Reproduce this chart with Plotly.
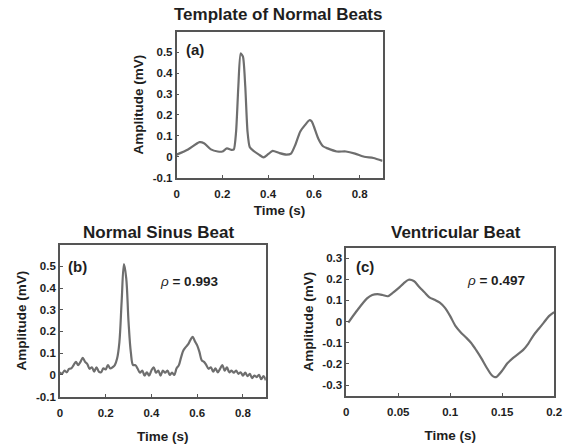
import plotly.graph_objects as go

# ---------------- data ----------------
t_a = [0, 0.05, 0.1, 0.12, 0.15, 0.18, 0.2, 0.22, 0.24, 0.25, 0.26, 0.27, 0.28, 0.29, 0.30,
       0.31, 0.32, 0.34, 0.36, 0.38, 0.40, 0.42, 0.45, 0.48, 0.50, 0.52, 0.54, 0.56, 0.58,
       0.59, 0.60, 0.62, 0.64, 0.66, 0.70, 0.74, 0.78, 0.82, 0.86, 0.9]
v_a = [0.01, 0.035, 0.07, 0.065, 0.035, 0.025, 0.025, 0.04, 0.033, 0.035, 0.12, 0.34, 0.495,
       0.48, 0.34, 0.12, 0.045, 0.025, 0.01, -0.003, 0.012, 0.028, 0.017, 0.01, 0.015, 0.06,
       0.12, 0.15, 0.175, 0.17, 0.145, 0.085, 0.05, 0.04, 0.025, 0.025, 0.015, 0.0, -0.006, -0.02]

t_b = [round(i * 0.01, 2) for i in range(91)]
v_b = [0.012, 0.005, 0.02, 0.012, 0.028, 0.03, 0.045, 0.06, 0.045, 0.06,
       0.078, 0.06, 0.05, 0.028, 0.035, 0.015, 0.035, 0.015, 0.012, 0.03,
       0.025, 0.045, 0.03, 0.035, 0.045, 0.075, 0.15, 0.34, 0.51, 0.445,
       0.245, 0.105, 0.045, 0.045, 0.028, 0.01, 0.02, -0.003, 0.012, -0.003,
       0.02, 0.035, 0.01, 0.02, -0.003, 0.02, 0.01, 0.02, 0.0, 0.01,
       0.0, 0.03, 0.045, 0.082, 0.113, 0.128, 0.14, 0.16, 0.175, 0.155,
       0.136, 0.105, 0.067, 0.06, 0.045, 0.028, 0.035, 0.015, 0.03, 0.012,
       0.028, 0.045, 0.02, 0.035, 0.012, 0.02, 0.01, 0.02, 0.005, 0.012,
       -0.003, 0.01, -0.006, 0.005, -0.015, -0.003, -0.01, 0.0, -0.02, -0.006,
       -0.025]

t_c = [0.002, 0.01, 0.02, 0.025, 0.03, 0.035, 0.04, 0.045, 0.05, 0.055, 0.06, 0.065, 0.07,
       0.075, 0.08, 0.085, 0.09, 0.095, 0.10, 0.105, 0.11, 0.115, 0.12, 0.125, 0.13, 0.135,
       0.14, 0.143, 0.145, 0.15, 0.155, 0.16, 0.165, 0.17, 0.175, 0.18, 0.185, 0.19, 0.195, 0.2]
v_c = [-0.005, 0.05, 0.11, 0.126, 0.13, 0.126, 0.12, 0.137, 0.157, 0.18, 0.198, 0.192, 0.165,
       0.14, 0.115, 0.103, 0.09, 0.065, 0.026, -0.02, -0.05, -0.074, -0.1, -0.135, -0.174,
       -0.217, -0.254, -0.263, -0.26, -0.232, -0.197, -0.174, -0.155, -0.135, -0.105, -0.066,
       -0.035, -0.005, 0.026, 0.045]

xt_ab = [0, 0.2, 0.4, 0.6, 0.8]
xt_ab_txt = ["0", "0.2", "0.4", "0.6", "0.8"]
yt_ab = [-0.1, 0, 0.1, 0.2, 0.3, 0.4, 0.5]
yt_ab_txt = ["-0.1", "0", "0.1", "0.2", "0.3", "0.4", "0.5"]
xt_c = [0, 0.05, 0.1, 0.15, 0.2]
xt_c_txt = ["0", "0.05", "0.1", "0.15", "0.2"]
yt_c = [-0.3, -0.2, -0.1, 0, 0.1, 0.2, 0.3]
yt_c_txt = ["-0.3", "-0.2", "-0.1", "0", "0.1", "0.2", "0.3"]

titles = ["Template of Normal Beats", "Normal Sinus Beat", "Ventricular Beat"]
labels = ["(a)", "(b)", "(c)"]
rho = ["0.993", "0.497"]

# ---------------- figure ----------------
W, H = 570, 445
FONT = "Liberation Sans, Arial, sans-serif"
LINE = "#6e6e6e"
AX = "#555555"
TXT = "#1e1e1e"

def px(x):
    return x / W

def py(y):
    return 1 - y / H

fig = go.Figure()
fig.add_trace(go.Scatter(x=t_a, y=v_a, mode="lines", line=dict(color=LINE, width=2.2, shape="spline", smoothing=0.6),
                         xaxis="x", yaxis="y", showlegend=False))
fig.add_trace(go.Scatter(x=t_b, y=v_b, mode="lines", line=dict(color=LINE, width=2.2, shape="spline", smoothing=1.0),
                         xaxis="x2", yaxis="y2", showlegend=False))
fig.add_trace(go.Scatter(x=t_c, y=v_c, mode="lines", line=dict(color=LINE, width=2.2, shape="spline", smoothing=0.8),
                         xaxis="x3", yaxis="y3", showlegend=False))

def axis(domain, rng, tv, tt, title, anchor, standoff, is_x):
    d = dict(domain=domain, range=rng, tickvals=tv, ticktext=tt, anchor=anchor,
             showline=True, mirror=True, linecolor=AX, linewidth=1.5,
             ticks="inside", ticklen=3, tickcolor=AX, showgrid=False, zeroline=False,
             tickfont=dict(family=FONT, size=11.5, color=TXT, weight="bold"),
             title=dict(text=title, standoff=standoff,
                        font=dict(family=FONT, size=13.5, color=TXT, weight="bold")))
    if is_x:
        d["ticklabelstandoff"] = 5
    return d

dom = {
    "a": ([px(177), px(387)], [py(180), py(32)]),
    "b": ([px(58), px(268)], [py(402), py(248)]),
    "c": ([px(350), px(562)], [py(401), py(251)]),
}

fig.update_layout(
    width=W, height=H, margin=dict(l=0, r=0, t=0, b=0),
    paper_bgcolor="white", plot_bgcolor="white",
    xaxis=axis(dom["a"][0], [0, 0.9], xt_ab, xt_ab_txt, "Time (s)", "y", 6, True),
    yaxis=axis(dom["a"][1], [-0.1, 0.6], yt_ab, yt_ab_txt, "Amplitude (mV)", "x", 6, False),
    xaxis2=axis(dom["b"][0], [0, 0.9], xt_ab, xt_ab_txt, "Time (s)", "y2", 13, True),
    yaxis2=axis(dom["b"][1], [-0.1, 0.6], yt_ab, yt_ab_txt, "Amplitude (mV)", "x2", 6, False),
    xaxis3=axis(dom["c"][0], [0, 0.2], xt_c, xt_c_txt, "Time (s)", "y3", 13, True),
    yaxis3=axis(dom["c"][1], [-0.35, 0.35], yt_c, yt_c_txt, "Amplitude (mV)", "x3", 6, False),
)

ann = []
title_pos = [(280, 15), (159, 236), (462, 236)]
for txt, (x, y) in zip(titles, title_pos):
    ann.append(dict(text=txt, x=px(x), y=py(y), xref="paper", yref="paper", showarrow=False,
                    xanchor="center", yanchor="middle",
                    font=dict(family=FONT, size=17, color=TXT, weight="bold")))
label_pos = [(196, 50), (76, 270), (369, 270)]
for txt, (x, y) in zip(labels, label_pos):
    ann.append(dict(text=txt, x=px(x), y=py(y), xref="paper", yref="paper", showarrow=False,
                    xanchor="center", yanchor="middle",
                    font=dict(family=FONT, size=15, color=TXT, weight="bold")))
rho_pos = [(190, 285), (503, 284)]
for val, (x, y) in zip(rho, rho_pos):
    ann.append(dict(text="<i>ρ</i><b> = " + val + "</b>", x=px(x), y=py(y), xref="paper", yref="paper",
                    showarrow=False, xanchor="center", yanchor="middle",
                    font=dict(family=FONT, size=13.5, color=TXT)))
fig.update_layout(annotations=ann)

fig.write_html("out.html")
